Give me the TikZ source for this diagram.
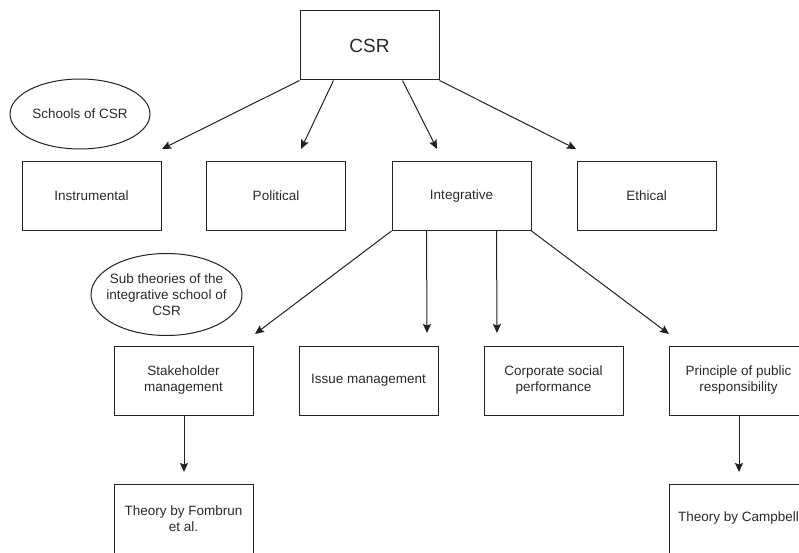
\documentclass[tikz,border=0pt]{standalone}
\usepackage{fontspec}
\setmainfont{Liberation Sans}
\usetikzlibrary{shapes.geometric,arrows.meta,calc}
\definecolor{ln}{HTML}{222222}
\definecolor{tx}{HTML}{2a2a2a}
\begin{document}
\begin{tikzpicture}[x=1pt,y=-1pt,
  box/.style={draw=ln,line width=1pt,minimum width=139pt,minimum height=69pt,inner sep=0pt,align=center,text=tx,font=\fontsize{13.5}{16}\selectfont},
  oval/.style={draw=ln,line width=1pt,ellipse,inner sep=0pt,align=center,text=tx,font=\fontsize{13.5}{16}\selectfont},
  ovaltext/.style={inner sep=0pt,align=center,text=tx,font=\fontsize{13.5}{16}\selectfont},
  arr/.style={draw=ln,line width=1pt,-{Stealth[length=9pt,width=8pt,inset=1.5pt]}}]
\useasboundingbox (0,0) rectangle (799,553);
\clip (0,0) rectangle (799,553);
\fill[white] (0,0) rectangle (799,553);
\node[box,font=\fontsize{19}{22}\selectfont] (csr) at (369.5,45.5) {CSR};
\node[oval,minimum width=140pt,minimum height=70pt] (schools) at (80,114) {Schools of CSR};
\node[box] (ins) at (91.5,196) {Instrumental};
\node[box] (pol) at (276,196) {Political};
\node[box] (int) at (461.5,196) {Integrative};
\node[box] (eth) at (646.5,196) {Ethical};
\node[ovaltext] (sub) at (166.5,294.5) {Sub theories of the\\integrative school of\\CSR};
\draw[ln,line width=1pt] (sub.center) ellipse [x radius=75.5pt, y radius=41pt];
\node[box] (stk) at (183.5,380.5) {Stakeholder\\management};
\node[box] (iss) at (368.5,380.5) {Issue management};
\node[box] (csp) at (553.5,380.5) {Corporate social\\performance};
\node[box] (ppr) at (738.5,380.5) {Principle of public\\responsibility};
\node[box] (fom) at (183.5,518.5) {Theory by Fombrun\\et al.};
\node[box] (cam) at (738.5,518.5) {Theory by Campbell};
\coordinate (tins) at (162,149);
\coordinate (tpol) at (301,149);
\coordinate (tint) at (437,149);
\coordinate (teth) at (576,149);
\coordinate (tstk) at (255,334);
\coordinate (tiss) at (427,333);
\coordinate (tcsp) at (497,333);
\coordinate (tppr) at (669,334);
\coordinate (tfom) at (184,472);
\coordinate (tcam) at (739,472);
\draw[arr] (csr.south west) -- (tins);
\draw[arr] ($(csr.south west)+(34,0)$) -- (tpol);
\draw[arr] ($(csr.south west)+(103,0)$) -- (tint);
\draw[arr] (csr.south east) -- (teth);
\draw[arr] (int.south west) -- (tstk);
\draw[arr] ($(int.south west)+(35,0)$) -- (tiss);
\draw[arr] ($(int.south west)+(105,0)$) -- (tcsp);
\draw[arr] (int.south east) -- (tppr);
\draw[arr] ($(stk.south)+(0.5,0)$) -- (tfom);
\draw[arr] ($(ppr.south)+(0.5,0)$) -- (tcam);
\end{tikzpicture}
\end{document}
